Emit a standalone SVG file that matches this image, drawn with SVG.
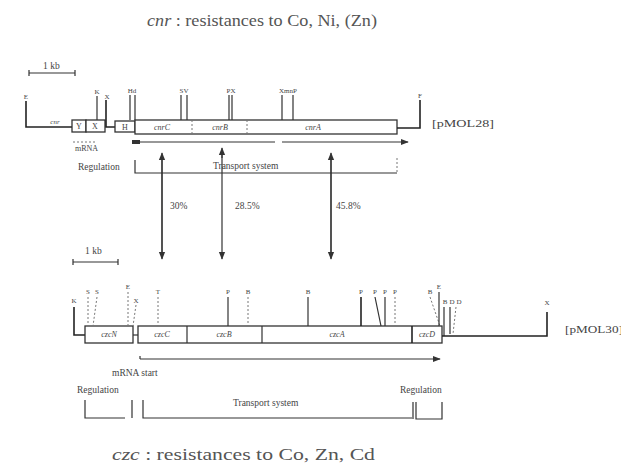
<svg xmlns="http://www.w3.org/2000/svg" width="621" height="466" viewBox="0 0 621 466">
<defs>
<style>
.ln{stroke:#333;stroke-width:1.2;fill:none}
.th{stroke:#222;stroke-width:1.6;fill:none}
.dt{stroke:#777;stroke-width:1;fill:none;stroke-dasharray:2 2}
.bx{stroke:#333;stroke-width:1.3;fill:#fff}
.t{font-family:"Liberation Serif",serif;fill:#444}
.ttl{font-family:"Liberation Serif",serif;fill:#555;font-size:17px}
.lab{font-size:7px;text-anchor:middle}
.gn{font-size:8px;text-anchor:middle}
.st{font-size:8px;text-anchor:start}
.sm{font-size:9.5px}
</style>
<marker id="ah" viewBox="0 0 10 10" refX="9" refY="5" markerWidth="8" markerHeight="10" orient="auto" markerUnits="userSpaceOnUse">
<path d="M0,1 L10,5 L0,9 Z" fill="#333"/>
</marker>
</defs>

<text class="ttl" x="147" y="26" textLength="230" lengthAdjust="spacingAndGlyphs"><tspan font-style="italic">cnr</tspan> : resistances to Co, Ni, (Zn)</text>

<g id="scale-top">
<path class="ln" d="M29,70 V76 M29,73 H75 M75,70 V76"/>
<text class="t sm" x="43" y="69">1 kb</text>
</g>

<g id="cnr-map">
<path class="th" d="M26,101 V127 H72"/>
<text class="t lab" x="26" y="99">E</text>
<text class="t lab" x="55" y="124" font-style="italic">cnr</text>
<rect class="bx" x="72" y="120" width="14" height="12"/>
<text class="t gn" x="79" y="129">Y</text>
<rect class="bx" x="86" y="120" width="19" height="12"/>
<text class="t gn" x="95" y="129">X</text>
<path class="ln" d="M97,96 V120"/>
<text class="t lab" x="97" y="94">K</text>
<path class="th" d="M106,100 V127 H115"/>
<text class="t lab" x="107" y="99">X</text>
<rect class="bx" x="115" y="121" width="20" height="11"/>
<text class="t gn" x="125" y="130">H</text>
<path class="ln" d="M130,95 V120 M135,95 V120"/>
<text class="t lab" x="132" y="93">Hd</text>
<rect class="bx" x="135" y="120" width="262" height="14"/>
<path class="dt" d="M192,120 V134 M247,120 V134"/>
<text class="t gn" x="162" y="130" font-style="italic">cnrC</text>
<text class="t gn" x="220" y="130" font-style="italic">cnrB</text>
<text class="t gn" x="313" y="130" font-style="italic">cnrA</text>
<path class="ln" d="M181,95 V120 M187,95 V120"/>
<text class="t lab" x="184" y="93">SV</text>
<path class="ln" d="M229,95 V120 M232,95 V120"/>
<text class="t lab" x="231" y="93">PX</text>
<path class="ln" d="M282,95 V120 M293,95 V120"/>
<text class="t lab" x="288" y="93">XmnP</text>
<path class="th" d="M397,128 H420 V100"/>
<text class="t lab" x="420" y="98">F</text>
<text class="t sm" x="432" y="127" textLength="62" lengthAdjust="spacingAndGlyphs">[pMOL28]</text>
<path class="dt" d="M73,142 H95"/>
<text class="t st" x="75" y="151">mRNA</text>
<rect x="132" y="140" width="8" height="4" fill="#333"/>
<path class="ln" d="M132,142 H275 M282,142 H408" marker-end="url(#ah)"/>
<text class="t sm" x="78" y="170">Regulation</text>
<path class="ln" d="M135,160 V173 H397"/>
<path class="dt" d="M397,158 V173"/>
<text class="t sm" x="213" y="169">Transport system</text>
</g>

<g id="connectors">
<path class="ln" d="M162,258 V153" marker-end="url(#ah)"/>
<path class="ln" d="M162,158 V259" marker-end="url(#ah)"/>
<path class="ln" d="M222,158 V148" marker-end="url(#ah)"/>
<path class="ln" d="M222,150 V259" marker-end="url(#ah)"/>
<path class="ln" d="M331,258 V153" marker-end="url(#ah)"/>
<path class="ln" d="M331,158 V259" marker-end="url(#ah)"/>
<text class="t sm" x="170" y="209">30%</text>
<text class="t sm" x="235" y="209">28.5%</text>
<text class="t sm" x="336" y="209">45.8%</text>
</g>

<g id="scale-bottom">
<path class="ln" d="M73,259 V265 M73,262 H118 M118,259 V265"/>
<text class="t sm" x="85" y="254">1 kb</text>
</g>

<g id="czc-map">
<path class="th" d="M74,307 V335 H85"/>
<text class="t lab" x="74" y="303">K</text>
<rect class="bx" x="85" y="326" width="48" height="17"/>
<text class="t gn" x="109" y="337" font-style="italic">czcN</text>
<path class="ln" d="M133,335 H138"/>
<rect class="bx" x="138" y="326" width="304" height="17"/>
<path class="ln" d="M187,326 V343 M262,326 V343"/>
<path class="th" d="M412,326 V343" stroke-width="2.4"/>
<text class="t gn" x="162" y="337" font-style="italic">czcC</text>
<text class="t gn" x="224" y="337" font-style="italic">czcB</text>
<text class="t gn" x="337" y="337" font-style="italic">czcA</text>
<text class="t gn" x="427" y="337" font-style="italic">czcD</text>
<text class="t lab" x="88" y="294">S</text>
<text class="t lab" x="97" y="294">S</text>
<path class="dt" d="M88,297 V326"/>
<path class="dt" d="M97,297 L93,326"/>
<text class="t lab" x="128" y="289">E</text>
<path class="dt" d="M128,292 V326"/>
<text class="t lab" x="136" y="303">X</text>
<path class="dt" d="M136,305 L133,326"/>
<text class="t lab" x="158" y="294">T</text>
<path class="dt" d="M158,297 V326"/>
<text class="t lab" x="228" y="294">P</text>
<path class="ln" d="M228,297 V326"/>
<text class="t lab" x="248" y="294">B</text>
<path class="dt" d="M248,297 V326"/>
<text class="t lab" x="308" y="294">B</text>
<path class="ln" d="M308,297 V326"/>
<text class="t lab" x="361" y="294">P</text>
<path class="th" d="M361,297 V326"/>
<text class="t lab" x="375" y="294">P</text>
<text class="t lab" x="385" y="294">P</text>
<text class="t lab" x="395" y="294">P</text>
<path class="ln" d="M375,297 L381,326 M385,297 V326"/>
<path class="dt" d="M395,297 V326"/>
<text class="t lab" x="430" y="294">B</text>
<path class="dt" d="M430,297 L440,326"/>
<text class="t lab" x="439" y="289">E</text>
<path class="ln" d="M439,292 V326"/>
<text class="t lab" x="445" y="304">B</text>
<text class="t lab" x="452" y="304">D</text>
<text class="t lab" x="459" y="304">D</text>
<path class="ln" d="M444,307 V336 M450,307 V334"/>
<path class="dt" d="M456,307 L453,334"/>
<path class="th" d="M442,336 H547 V312"/>
<text class="t lab" x="547" y="305">X</text>
<text class="t sm" x="565" y="333" textLength="58" lengthAdjust="spacingAndGlyphs">[pMOL30]</text>
<path class="ln" d="M140,356 V359"/>
<path class="ln" d="M140,359 H440" marker-end="url(#ah)"/>
<text class="t sm" x="112" y="376">mRNA start</text>
<text class="t sm" x="77" y="393">Regulation</text>
<path class="ln" d="M85,400 V418 H125 M132,400 V418 M143,400 V418 H412"/>
<text class="t sm" x="233" y="406">Transport system</text>
<text class="t sm" x="400" y="393">Regulation</text>
<path class="ln" d="M413,402 V419 M416,402 V419 H442 V402"/>
</g>

<text class="ttl" x="112" y="460" font-size="18" textLength="263" lengthAdjust="spacingAndGlyphs"><tspan font-style="italic">czc</tspan> : resistances to Co, Zn, Cd</text>
</svg>
